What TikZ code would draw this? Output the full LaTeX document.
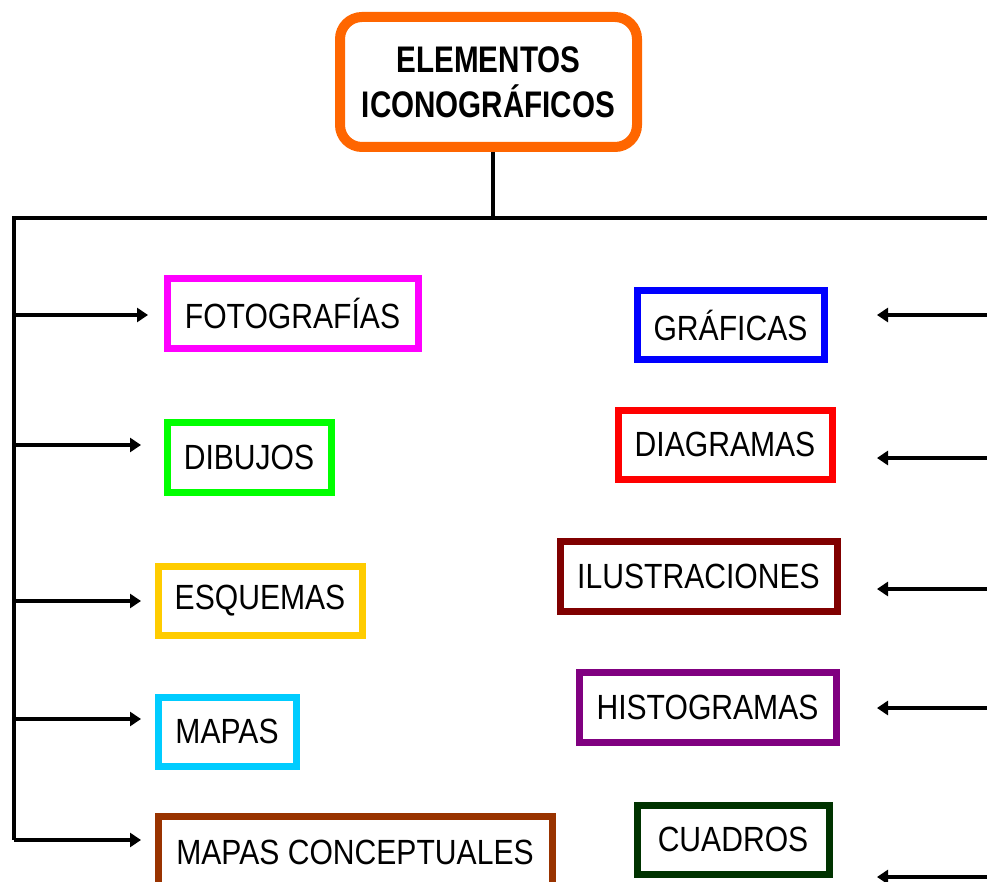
\documentclass[tikz,border=0pt]{standalone}
\usepackage{fontspec}
\setmainfont{Liberation Sans}[FakeStretch=0.86]
\newfontfamily\titlefont{Liberation Sans}[FakeStretch=0.80]
\usepackage{tikz}
\usetikzlibrary{arrows.meta}
\definecolor{cOrange}{HTML}{FF6600}
\definecolor{cMagenta}{HTML}{FF00FF}
\definecolor{cGreen}{HTML}{00FF00}
\definecolor{cYellow}{HTML}{FFCC00}
\definecolor{cCyan}{HTML}{00CCFF}
\definecolor{cBrown}{HTML}{993300}
\definecolor{cBlue}{HTML}{0000FF}
\definecolor{cRed}{HTML}{FF0000}
\definecolor{cMaroon}{HTML}{800000}
\definecolor{cPurple}{HTML}{800080}
\definecolor{cDarkGreen}{HTML}{003300}

\begin{document}
\begin{tikzpicture}[x=1pt, y=-1pt,
	item/.style={draw, line width=7pt, inner sep=0pt, font=\fontsize{35}{40}\selectfont},
	trunk/.style={line width=4.3pt},
	arr/.style={line width=4.3pt, -{Triangle[length=11pt, width=14pt]}}]
			\useasboundingbox (0,0) rectangle (987,882);
			\clip (0,0) rectangle (987,882);
			\node[draw=cOrange, line width=10pt, rounded corners=22pt, inner sep=0pt,
				minimum width=297pt, minimum height=130pt, align=center,
				font=\titlefont\bfseries\fontsize{37}{45}\selectfont] (title) at (488.5,82)
				{ELEMENTOS\\ICONOGRÁFICOS};
			\node[item, draw=cMagenta, minimum width=251pt, minimum height=69pt] (foto) at (292.5,313.5) {FOTOGRAFÍAS};
			\node[item, draw=cGreen, minimum width=164pt, minimum height=70pt] (dibu) at (249,457) {DIBUJOS};
			\node[item, draw=cYellow, minimum width=204pt, minimum height=69pt] (esqu) at (260,600.5) {ESQUEMAS};
			\node[item, draw=cCyan, minimum width=138pt, minimum height=69pt] (mapa) at (227,731.5) {MAPAS};
			\node[item, draw=cBrown, minimum width=394pt, minimum height=72pt] (conc) at (355,852) {MAPAS CONCEPTUALES};
			\node[item, draw=cBlue, minimum width=187pt, minimum height=68pt] (graf) at (730.5,325) {GRÁFICAS};
			\node[item, draw=cRed, minimum width=214pt, minimum height=69pt] (diag) at (725,444.5) {DIAGRAMAS};
			\node[item, draw=cMaroon, minimum width=277pt, minimum height=70pt] (ilus) at (698.5,576) {ILUSTRACIONES};
			\node[item, draw=cPurple, minimum width=257pt, minimum height=70pt] (hist) at (707.5,707) {HISTOGRAMAS};
			\node[item, draw=cDarkGreen, minimum width=192pt, minimum height=69pt] (cuad) at (733,839.5) {CUADROS};
			\coordinate (top) at (493,218);
			\coordinate (tl) at (14,218);
			\coordinate (tr) at (1000,218);
			\coordinate (tipL) at (141,0);
			\coordinate (tipR) at (877,0);
			\coordinate (l1) at (14,315);
			\coordinate (l2) at (14,445);
			\coordinate (l3) at (14,601);
			\coordinate (l4) at (14,719);
			\coordinate (l5) at (14,840);
			\coordinate (r1) at (1000,315);
			\coordinate (r2) at (1000,458);
			\coordinate (r3) at (1000,589);
			\coordinate (r4) at (1000,708);
			\coordinate (r5) at (1000,877);
			\draw[trunk] (top |- title.south) -- (top);
			\draw[trunk] (tr) -- (tl) -- (l5);
			\draw[arr] (l1) -- ([xshift=7pt]l1 -| tipL);
			\foreach \p in {l2,l3,l4,l5}
				\draw[arr] (\p) -- (\p -| tipL);
			\foreach \p in {r1,r2,r3,r4,r5}
				\draw[arr] (\p) -- (\p -| tipR);
			\end{tikzpicture}
\end{document}
